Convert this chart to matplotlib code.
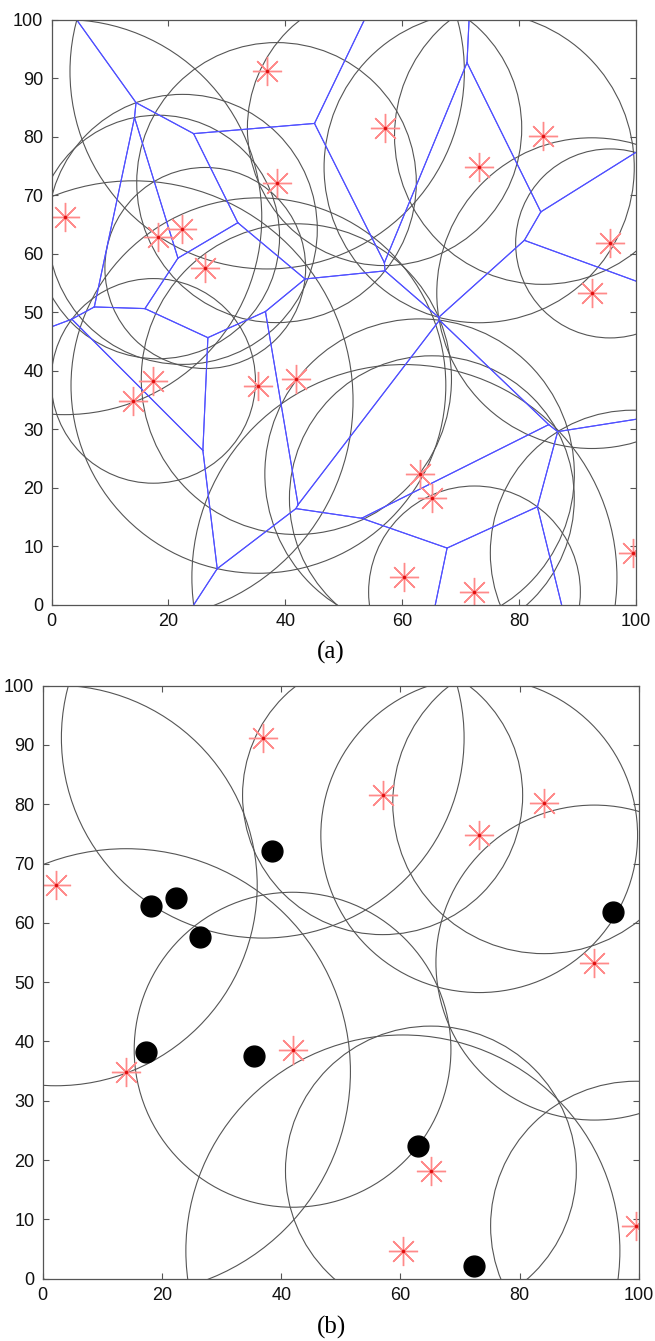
import numpy as np
import matplotlib
matplotlib.use("Agg")
import matplotlib.pyplot as plt
from matplotlib.patches import Circle

# ---- data ----
site_x = [2.2, 18.2, 22.4, 26.3, 36.9, 38.5, 57.0, 73.2, 84.1, 95.6,
          92.5, 14.0, 17.4, 35.4, 41.9, 63.0, 65.1, 60.4, 72.4, 99.5]
site_y = [66.3, 62.9, 64.2, 57.6, 91.2, 72.2, 81.5, 74.8, 80.2, 61.8,
          53.3, 34.9, 38.3, 37.5, 38.6, 22.4, 18.2, 4.7, 2.2, 8.9]
# nodes that stay active in panel (b) (drawn as stars); the rest are black dots
active_idx = [0, 4, 6, 7, 8, 10, 11, 14, 16, 17, 19]

x_ticks = [0, 20, 40, 60, 80, 100]
y_ticks = [0, 10, 20, 30, 40, 50, 60, 70, 80, 90, 100]
captions = ["(a)", "(b)"]

# ---- Voronoi cells clipped to the field (0..100) ----
sites = np.column_stack([site_x, site_y]).astype(float)
L = 100.0


def clip(poly, a, b, c):
    out = []
    n = len(poly)
    for k in range(n):
        P = poly[k]
        Q = poly[(k + 1) % n]
        fp = a * P[0] + b * P[1] - c
        fq = a * Q[0] + b * Q[1] - c
        if fp <= 0:
            out.append(P)
        if fp * fq < 0:
            t = fp / (fp - fq)
            out.append(P + t * (Q - P))
    return out


cells = []
for i, si in enumerate(sites):
    poly = [np.array(p, float) for p in [(0, 0), (L, 0), (L, L), (0, L)]]
    for j, sj in enumerate(sites):
        if i == j:
            continue
        d = sj - si
        poly = clip(poly, 2 * d[0], 2 * d[1], sj @ sj - si @ si)
    cells.append(poly)

# sensing radius of each node = distance to the farthest vertex of its cell
radii = [max(np.hypot(*(v - sites[i])) for v in cells[i]) for i in range(len(sites))]


def on_same_border(P, Q, eps=1e-6):
    for k in (0, 1):
        for v in (0.0, L):
            if abs(P[k] - v) < eps and abs(Q[k] - v) < eps:
                return True
    return False


edges = []
for poly in cells:
    n = len(poly)
    for k in range(n):
        P, Q = poly[k], poly[(k + 1) % n]
        if not on_same_border(P, Q):
            edges.append((P, Q))

# ---- figure ----
fig = plt.figure(figsize=(6.55, 13.41), dpi=100)
ax_a = fig.add_axes([0.0789, 0.5489, 0.8916, 0.4362])
ax_b = fig.add_axes([0.0652, 0.0465, 0.9104, 0.4422])

circ_col = "#555555"
star_kw = dict(marker=(8, 2, 0), markersize=21, markeredgewidth=1.0,
               color="#ff8a8a", linestyle="none")


def style(ax):
    ax.set_xlim(0, 100)
    ax.set_ylim(0, 100)
    ax.set_xticks(x_ticks)
    ax.set_yticks(y_ticks)
    ax.tick_params(direction="in", top=True, right=True, length=4.5,
                   width=0.8, color="#555555", labelsize=13, pad=6)
    for s in ax.spines.values():
        s.set_color("#555555")
        s.set_linewidth(0.9)
    for lab in ax.get_xticklabels() + ax.get_yticklabels():
        lab.set_fontfamily("Liberation Sans")
        lab.set_color("#111111")


# panel (a)
for i in range(len(sites)):
    ax_a.add_patch(Circle((site_x[i], site_y[i]), radii[i], fill=False,
                          ec=circ_col, lw=0.8))
for P, Q in edges:
    ax_a.plot([P[0], Q[0]], [P[1], Q[1]], color="#5050ff", lw=0.8)
ax_a.plot(site_x, site_y, **star_kw)
ax_a.plot(site_x, site_y, marker=".", markersize=3, color="#e01010", linestyle="none")
style(ax_a)

# panel (b)
sleep_idx = [i for i in range(len(sites)) if i not in active_idx]
for i in active_idx:
    ax_b.add_patch(Circle((site_x[i], site_y[i]), radii[i], fill=False,
                          ec=circ_col, lw=0.8))
ax_b.plot([site_x[i] for i in active_idx], [site_y[i] for i in active_idx], **star_kw)
ax_b.plot([site_x[i] for i in active_idx], [site_y[i] for i in active_idx],
          marker=".", markersize=3, color="#e01010", linestyle="none")
ax_b.plot([site_x[i] for i in sleep_idx], [site_y[i] for i in sleep_idx],
          marker="o", markersize=15, color="black", linestyle="none")
style(ax_b)

fig.text(331 / 655, 1 - 652 / 1341, captions[0], ha="center", va="center",
         fontsize=18, family="Liberation Serif")
fig.text(332 / 655, 1 - 1327 / 1341, captions[1], ha="center", va="center",
         fontsize=18, family="Liberation Serif")

fig.savefig("out.png", dpi=100)
